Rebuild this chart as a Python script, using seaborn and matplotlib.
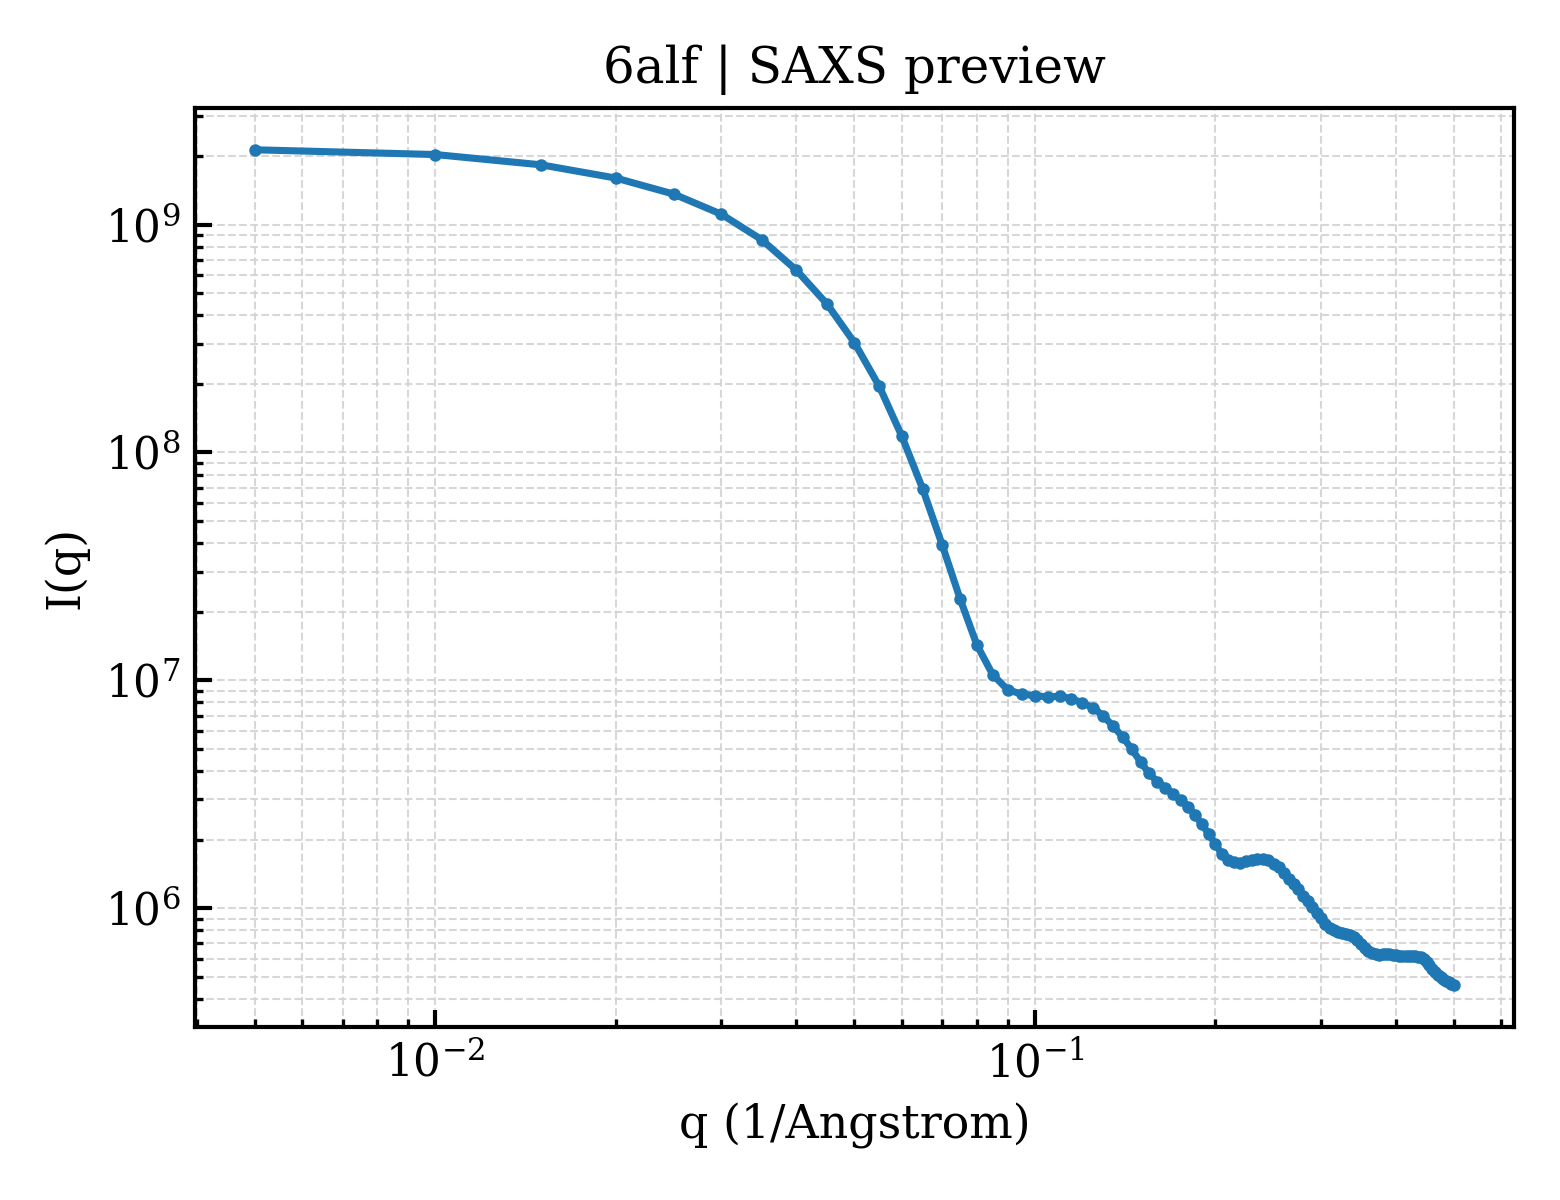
import matplotlib
matplotlib.use("Agg")
import matplotlib.pyplot as plt
import seaborn as sns
import pandas as pd

# SAXS profile values (q in 1/Angstrom, step 0.005)
q_values = [round(0.005 * k, 3) for k in range(1, 101)]

intensity_low_q = [
    2.13e9, 2.03e9, 1.83e9, 1.60e9, 1.36e9, 1.11e9, 8.59e8, 6.31e8, 4.48e8, 3.03e8,
    1.95e8, 1.175e8, 6.9e7, 3.94e7, 2.28e7, 1.43e7, 1.06e7, 9.1e6, 8.69e6, 8.57e6,
]
intensity_mid_q = [
    8.45e6, 8.51e6, 8.31e6, 7.96e6, 7.59e6, 6.98e6, 6.29e6, 5.65e6, 4.99e6, 4.39e6,
    3.90e6, 3.59e6, 3.38e6, 3.17e6, 2.98e6, 2.79e6, 2.56e6, 2.33e6, 2.11e6, 1.91e6,
    1.72e6, 1.63e6, 1.60e6, 1.58e6, 1.61e6, 1.63e6, 1.65e6, 1.65e6, 1.63e6, 1.57e6,
    1.51e6, 1.43e6, 1.34e6, 1.27e6, 1.21e6, 1.13e6, 1.07e6, 1.01e6, 9.54e5, 9.04e5,
]
intensity_high_q = [
    8.54e5, 8.20e5, 8.01e5, 7.85e5, 7.78e5, 7.70e5, 7.62e5, 7.44e5, 7.22e5, 6.95e5,
    6.68e5, 6.46e5, 6.33e5, 6.27e5, 6.25e5, 6.27e5, 6.29e5, 6.27e5, 6.25e5, 6.23e5,
    6.18e5, 6.16e5, 6.14e5, 6.14e5, 6.14e5, 6.14e5, 6.12e5, 6.08e5, 5.98e5, 5.78e5,
    5.61e5, 5.41e5, 5.25e5, 5.11e5, 5.00e5, 4.91e5, 4.81e5, 4.73e5, 4.65e5, 4.58e5,
]


def plot_saxs():
    df = pd.DataFrame({
        "q": q_values,
        "I": intensity_low_q + intensity_mid_q + intensity_high_q,
    })

    sns.set_theme(style="white")
    plt.rcParams["font.family"] = ["DejaVu Serif"]
    plt.rcParams["mathtext.fontset"] = "dejavuserif"
    plt.rcParams["axes.linewidth"] = 1.0
    plt.rcParams["text.color"] = "black"
    plt.rcParams["axes.labelcolor"] = "black"

    fig, ax = plt.subplots(figsize=(5.2, 4), dpi=300)
    sns.lineplot(data=df, x="q", y="I", ax=ax, color="#1f77b4",
                 linewidth=1.7, marker="o", markersize=3.0,
                 markeredgewidth=0)
    ax.set_xscale("log")
    ax.set_yscale("log")

    ax.grid(True, which="both", linestyle="--", linewidth=0.5,
            color="#d3d3d3", alpha=0.9)
    ax.tick_params(which="both", direction="in", top=False, right=False,
                   bottom=True, left=True, labelsize=10.5, colors="black")
    ax.tick_params(which="major", length=4, width=1.0)
    ax.tick_params(which="minor", length=2, width=0.8)
    for side in ax.spines.values():
        side.set_color("black")
        side.set_linewidth(1.0)

    ax.set_title("6alf | SAXS preview", fontsize=12, color="black")
    ax.set_xlabel("q (1/Angstrom)", fontsize=11, color="black")
    ax.set_ylabel("I(q)", fontsize=11, color="black")

    fig.subplots_adjust(left=0.125, right=0.9705, bottom=0.144, top=0.91)
    fig.savefig("out.png", dpi=300)
    plt.close(fig)


if __name__ == "__main__":
    plot_saxs()
